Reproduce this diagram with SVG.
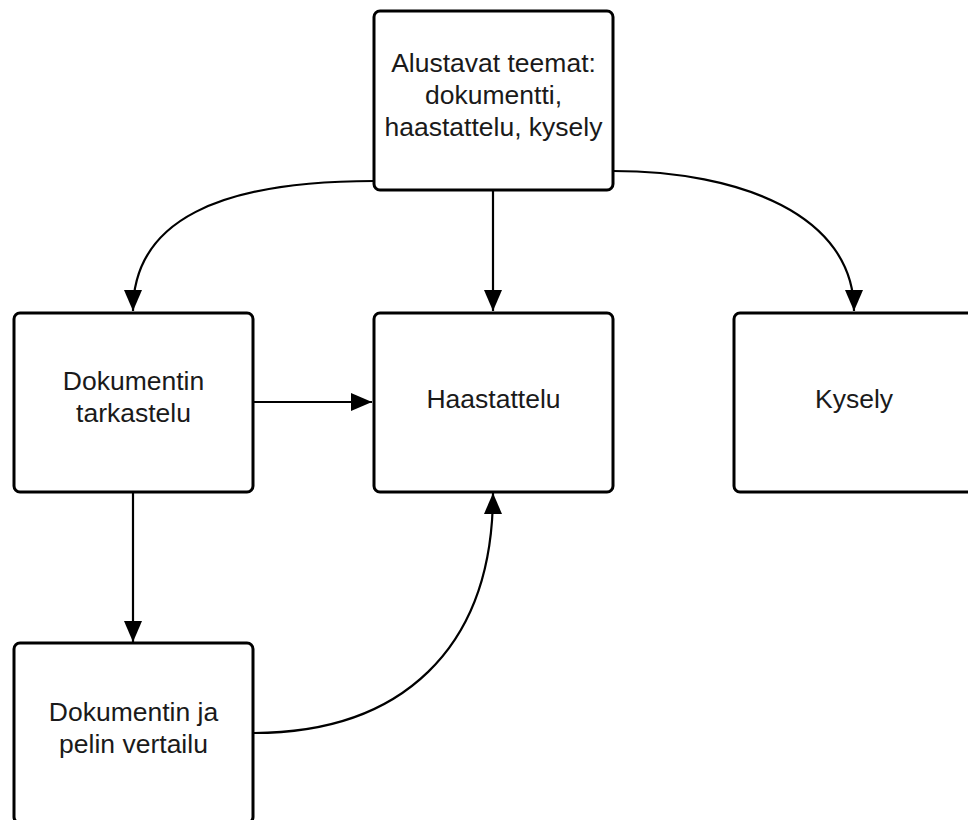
<svg xmlns="http://www.w3.org/2000/svg" width="968" height="820" viewBox="0 0 968 820">
<defs>
<marker id="arr" markerUnits="userSpaceOnUse" markerWidth="22" markerHeight="19" refX="21" refY="9" orient="auto">
<path d="M0,0 L21,9 L0,18 z" fill="#000"/>
</marker>
<style>
.box{fill:#fff;stroke:#000;stroke-width:3}
.lbl{font-family:"Liberation Sans",Arial,sans-serif;font-size:26.5px;fill:#1a1a1a;text-anchor:middle}
.edge{fill:none;stroke:#000;stroke-width:2.2;marker-end:url(#arr)}
</style>
</defs>
<rect width="968" height="820" fill="#fff"/>
<g id="connectors">
<path class="edge" d="M374,181 C220,181 133,220 133,311"/>
<path class="edge" d="M613,171 C740,171 854,215 854,311"/>
<path class="edge" d="M493,190 L493,311"/>
<path class="edge" d="M253,402 L372,402"/>
<path class="edge" d="M133,492 L133,642"/>
<path class="edge" d="M253,733 C400,733 493,650 493,493"/>
</g>
<g id="n-top">
<rect class="box" x="374" y="11" width="239" height="179" rx="6"/>
<text class="lbl"><tspan x="493.5" y="72">Alustavat teemat:</tspan><tspan x="493.5" y="104">dokumentti,</tspan><tspan x="493.5" y="136">haastattelu, kysely</tspan></text>
</g>
<g id="n-tarkastelu">
<rect class="box" x="14" y="313" width="239" height="179" rx="6"/>
<text class="lbl"><tspan x="133.5" y="390">Dokumentin</tspan><tspan x="133.5" y="422">tarkastelu</tspan></text>
</g>
<g id="n-haastattelu">
<rect class="box" x="374" y="313" width="239" height="179" rx="6"/>
<text class="lbl" x="493.5" y="408">Haastattelu</text>
</g>
<g id="n-kysely">
<rect class="box" x="734" y="313" width="239" height="179" rx="6"/>
<text class="lbl" x="854" y="408">Kysely</text>
</g>
<g id="n-vertailu">
<rect class="box" x="14" y="643" width="239" height="180" rx="6"/>
<text class="lbl"><tspan x="133.5" y="721">Dokumentin ja</tspan><tspan x="133.5" y="753">pelin vertailu</tspan></text>
</g>
</svg>
